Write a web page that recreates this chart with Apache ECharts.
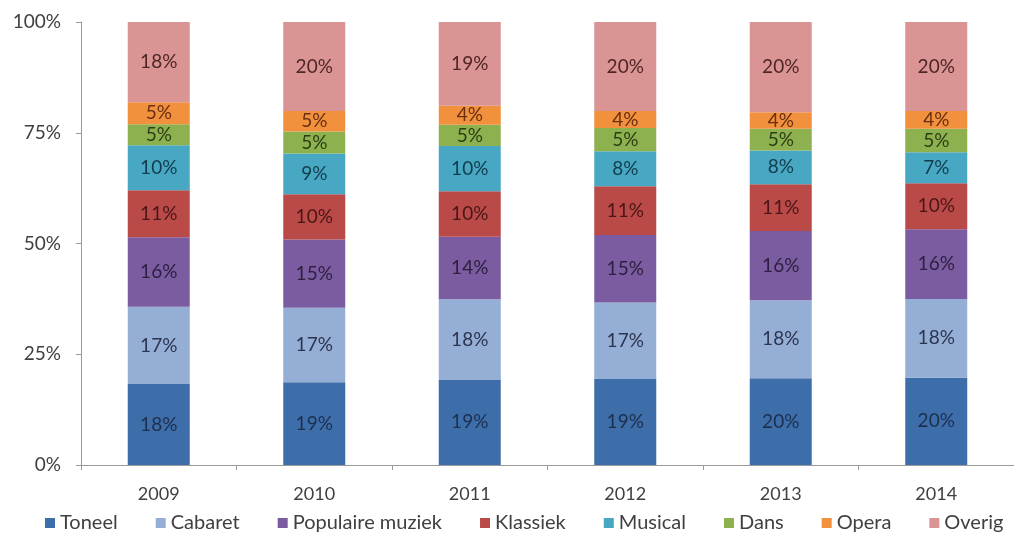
<!DOCTYPE html>
<html>
<head>
<meta charset="utf-8">
<script src="https://cdn.jsdelivr.net/npm/echarts@6/dist/echarts.min.js"></script>
<style>
    html, body { margin: 0; padding: 0; background: #fff; }
    #chart { width: 1014px; height: 533px; }
</style>
</head>
<body>
<div id="chart"></div>
<script>
// jaren
var years = ['2009', '2010', '2011', '2012', '2013', '2014'];

// aandeel per genre (%)
var toneel    = [18.3, 18.7, 19.3, 19.4, 19.6, 19.7];
var cabaret   = [17.4, 16.8, 18.1, 17.3, 17.6, 17.8];
var populair  = [15.7, 15.4, 14.1, 15.2, 15.6, 15.7];
var klassiek  = [10.6, 10.2, 10.3, 11.0, 10.6, 10.4];
var musical   = [10.2, 9.2, 10.2, 7.9, 7.6, 7.0];
var dans      = [4.7, 5.0, 4.8, 5.3, 4.9, 5.3];
var opera     = [5.0, 4.6, 4.3, 3.8, 3.7, 4.0];
var overig    = [18.1, 20.1, 18.9, 20.1, 20.4, 20.1];

var yTicks = [0, 25, 50, 75, 100];

var fontFamily = 'Lato, "Open Sans", sans-serif';

// naam, data, kleur balk, kleur label
var genres = [
    ['Toneel', toneel, '#3e6ea9', '#1c2f4f'],
    ['Cabaret', cabaret, '#95aed6', '#2c3550'],
    ['Populaire muziek', populair, '#7b5ca0', '#2e2040'],
    ['Klassiek', klassiek, '#b94a48', '#4a1616'],
    ['Musical', musical, '#48a8c4', '#123c4c'],
    ['Dans', dans, '#8eb150', '#2c3e14'],
    ['Opera', opera, '#f1913d', '#6a2e10'],
    ['Overig', overig, '#d99493', '#4e2626']
];

var chart = echarts.init(document.getElementById('chart'));

var series = genres.map(function (g) {
    return {
        name: g[0],
        type: 'bar',
        stack: 'totaal',
        barWidth: 62,
        data: g[1],
        itemStyle: { color: g[2] },
        label: {
            show: true,
            position: 'inside',
            color: g[3],
            fontFamily: fontFamily,
            fontSize: 19,
            formatter: function (p) { return Math.round(p.value) + '%'; }
        },
        emphasis: { disabled: true }
    };
});

var option = {
    animation: false,
    grid: {
        left: 81,
        width: 940,
        top: 22,
        bottom: 68
    },
    legend: {
        top: 508,
        left: 40,
        itemWidth: 10,
        itemHeight: 10,
        itemGap: 38,
        icon: 'rect',
        textStyle: { color: '#404040', fontSize: 20, fontFamily: fontFamily },
        data: genres.map(function (g) { return g[0]; })
    },
    xAxis: {
        type: 'category',
        data: years,
        axisLine: { lineStyle: { color: '#9a9a9a' } },
        axisTick: { show: true, length: 5, lineStyle: { color: '#9a9a9a' } },
        axisLabel: { color: '#404040', fontSize: 18, fontFamily: fontFamily, margin: 20 }
    },
    yAxis: {
        type: 'value',
        min: yTicks[0],
        max: yTicks[yTicks.length - 1],
        interval: 25,
        axisLine: { show: true, lineStyle: { color: '#9a9a9a' } },
        axisTick: { show: true, length: 5, lineStyle: { color: '#9a9a9a' } },
        splitLine: { show: false },
        axisLabel: {
            color: '#404040',
            fontSize: 19,
            fontFamily: fontFamily,
            margin: 20,
            formatter: '{value}%'
        }
    },
    series: series
};

chart.setOption(option);
</script>
</body>
</html>
